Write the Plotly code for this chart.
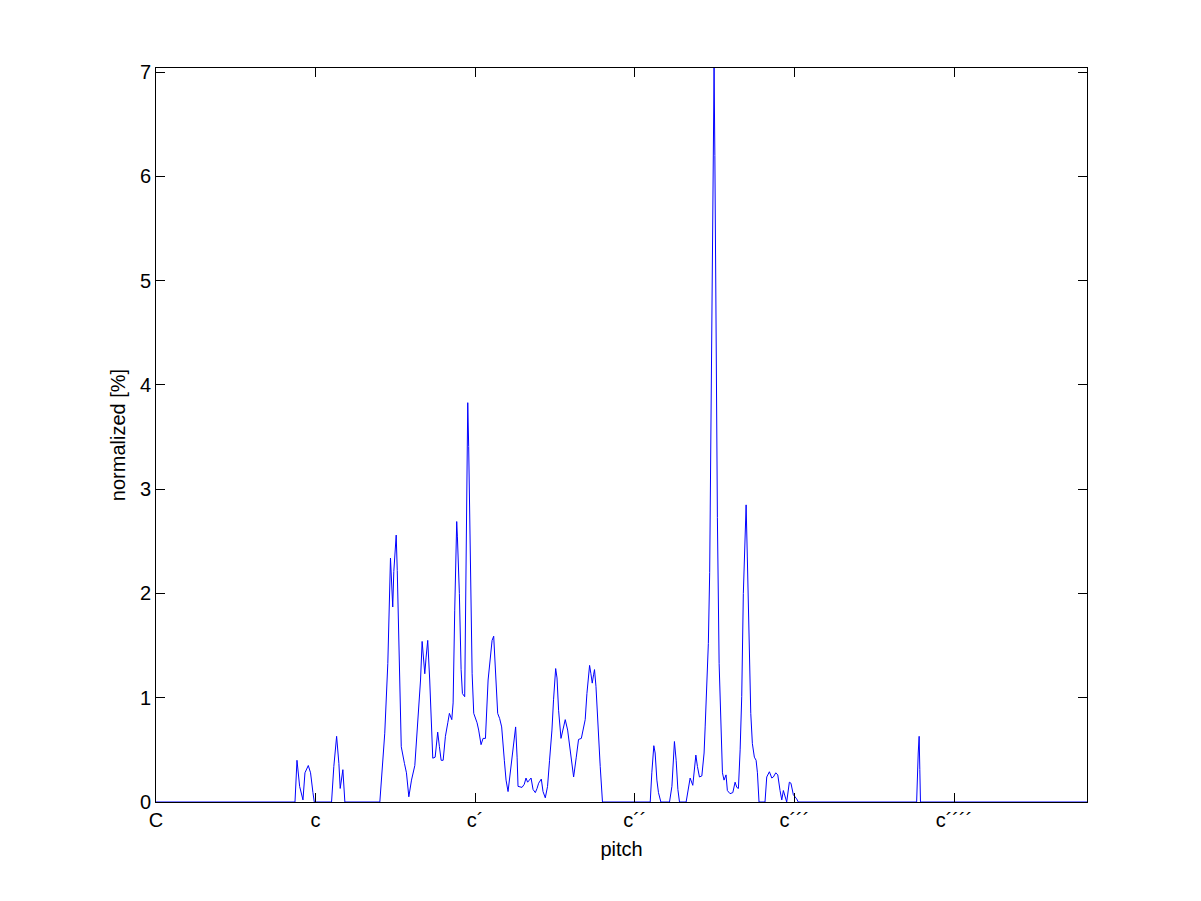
import plotly.graph_objects as go

# pitch in MIDI note numbers (C = 36, c = 48, c' = 60, ...), normalized share in %
pitch = [36.0,
         46.45, 46.60, 46.70, 46.80, 47.05, 47.20, 47.45, 47.62, 47.80, 47.90,
         49.20, 49.37, 49.58, 49.75, 49.85, 50.05, 50.20,
         52.83, 53.20, 53.43, 53.63, 53.71, 53.80, 53.88, 54.06, 54.14, 54.26, 54.44,
         54.68, 54.83, 55.01, 55.21, 55.46, 55.68, 55.89, 56.01, 56.09, 56.21, 56.31,
         56.43, 56.58, 56.71, 56.81, 56.99, 57.18, 57.31, 57.44, 57.59, 57.76, 57.94,
         58.06, 58.24, 58.34, 58.46, 58.61, 58.66, 58.81, 58.94, 59.04, 59.21, 59.32,
         59.39, 59.44, 59.51, 59.62, 59.77, 59.89, 60.14, 60.26, 60.44, 60.59, 60.77,
         60.97, 61.09, 61.27, 61.39, 61.52, 61.69, 61.84, 61.99, 62.19, 62.32, 62.47,
         62.59, 62.77, 62.92, 63.04, 63.15, 63.22, 63.52, 63.69, 63.82, 63.94, 64.07,
         64.20, 64.35, 64.52, 64.65, 64.77, 64.97, 65.10, 65.27, 65.44, 65.59, 65.77,
         65.89, 66.05, 66.15, 66.27, 66.45, 66.57, 66.77, 66.95, 67.10, 67.28, 67.40,
         67.60, 67.77, 67.98, 68.10, 68.27, 68.40, 68.52, 68.60, 68.70, 68.80, 68.90,
         68.97, 69.08, 69.20, 69.40, 69.57,
         73.16, 73.28, 73.43, 73.53, 73.66, 73.78, 73.96,
         74.61, 74.79, 74.98, 75.11, 75.24, 75.36,
         75.86, 76.16, 76.36, 76.59, 76.71, 76.86, 77.04, 77.21, 77.29, 77.41, 77.53,
         77.63, 77.71, 77.79, 77.87, 77.93, 77.96, 78.02, 78.09, 78.21, 78.34, 78.47,
         78.59, 78.71, 78.86, 78.96, 79.16, 79.37, 79.54, 79.67, 79.79, 79.92, 80.04,
         80.16, 80.29, 80.37, 80.46, 80.59, 80.72, 80.84, 80.99, 81.12, 81.22, 81.34,
         81.79, 81.92, 82.12, 82.30, 82.42, 82.60, 82.75, 82.92, 83.05, 83.17, 83.29,
         83.42, 83.62, 83.74, 83.92, 84.05, 84.17, 84.29,
         93.19, 93.31, 93.38, 93.43, 93.48,
         106.0]

share = [0.0,
         0.00, 0.40, 0.24, 0.15, 0.02, 0.28, 0.35, 0.28, 0.09, 0.00,
         0.00, 0.34, 0.63, 0.37, 0.13, 0.31, 0.00,
         0.00, 0.66, 1.33, 2.34, 2.13, 1.87, 2.21, 2.56, 2.22, 1.43, 0.53,
         0.37, 0.28, 0.05, 0.21, 0.35, 0.75, 1.17, 1.54, 1.39, 1.23, 1.39,
         1.55, 1.17, 0.69, 0.42, 0.43, 0.67, 0.53, 0.40, 0.40, 0.63, 0.76,
         0.85, 0.79, 0.95, 1.84, 2.69, 2.55, 2.00, 1.27, 1.04, 1.01, 2.45,
         3.35, 3.83, 3.41, 2.61, 1.23, 0.85, 0.76, 0.69, 0.55, 0.61, 0.61,
         1.17, 1.33, 1.55, 1.59, 1.30, 0.85, 0.80, 0.72, 0.40, 0.21, 0.10,
         0.24, 0.43, 0.61, 0.72, 0.43, 0.15, 0.14, 0.17, 0.23, 0.19, 0.21,
         0.23, 0.12, 0.09, 0.13, 0.18, 0.22, 0.10, 0.04, 0.15, 0.40, 0.69,
         0.98, 1.28, 1.19, 0.88, 0.61, 0.69, 0.79, 0.69, 0.53, 0.34, 0.24,
         0.43, 0.60, 0.61, 0.69, 0.79, 1.04, 1.23, 1.31, 1.23, 1.14, 1.22,
         1.27, 1.11, 0.76, 0.34, 0.00,
         0.00, 0.28, 0.54, 0.47, 0.21, 0.09, 0.00,
         0.00, 0.15, 0.58, 0.40, 0.12, 0.00,
         0.00, 0.23, 0.16, 0.45, 0.34, 0.24, 0.25, 0.47, 0.72, 1.14, 1.52,
         2.20, 3.25, 4.40, 5.46, 6.40, 7.04, 6.20, 4.45, 2.73, 1.33, 0.66,
         0.28, 0.21, 0.26, 0.11, 0.08, 0.09, 0.19, 0.14, 0.13, 0.50, 1.01,
         2.00, 2.67, 2.85, 2.35, 1.46, 0.85, 0.56, 0.43, 0.40, 0.28, 0.00,
         0.00, 0.24, 0.29, 0.23, 0.24, 0.28, 0.26, 0.11, 0.02, 0.11, 0.05,
         0.00, 0.19, 0.18, 0.07, 0.05, 0.03, 0.00,
         0.00, 0.47, 0.63, 0.31, 0.00,
         0.0]

tick_pos = [36, 48, 60, 72, 84, 96]
tick_text = ["C", "c", "c\u00b4", "c\u00b4\u00b4", "c\u00b4\u00b4\u00b4", "c\u00b4\u00b4\u00b4\u00b4"]
y_ticks = [0, 1, 2, 3, 4, 5, 6, 7]

fig = go.Figure()
fig.add_trace(go.Scatter(x=pitch, y=share, mode="lines",
                         line=dict(color="rgb(0,0,255)", width=1),
                         showlegend=False, hoverinfo="skip"))

font = dict(family="Liberation Sans, Arial, sans-serif", size=20, color="black")

axis_common = dict(showline=True, linecolor="black", linewidth=1, mirror="ticks",
                   ticks="inside", ticklen=9, tickwidth=1, tickcolor="black",
                   showgrid=False, zeroline=False, layer="above traces",
                   tickfont=font)

fig.update_xaxes(range=[36, 106], tickvals=tick_pos, ticktext=tick_text,
                 title=dict(text="pitch", font=font, standoff=11), **axis_common)
fig.update_yaxes(range=[0, 7.04], tickvals=y_ticks,
                 title=dict(text="normalized [%]", font=font, standoff=8), **axis_common)

# page body has an 8px margin, so the figure is a bit smaller than the window
fig.update_layout(width=1185, height=885,
                  margin=dict(l=148, r=106, t=60, b=91, autoexpand=False),
                  paper_bgcolor="white", plot_bgcolor="white",
                  font=font)

fig.write_html("out.html")
